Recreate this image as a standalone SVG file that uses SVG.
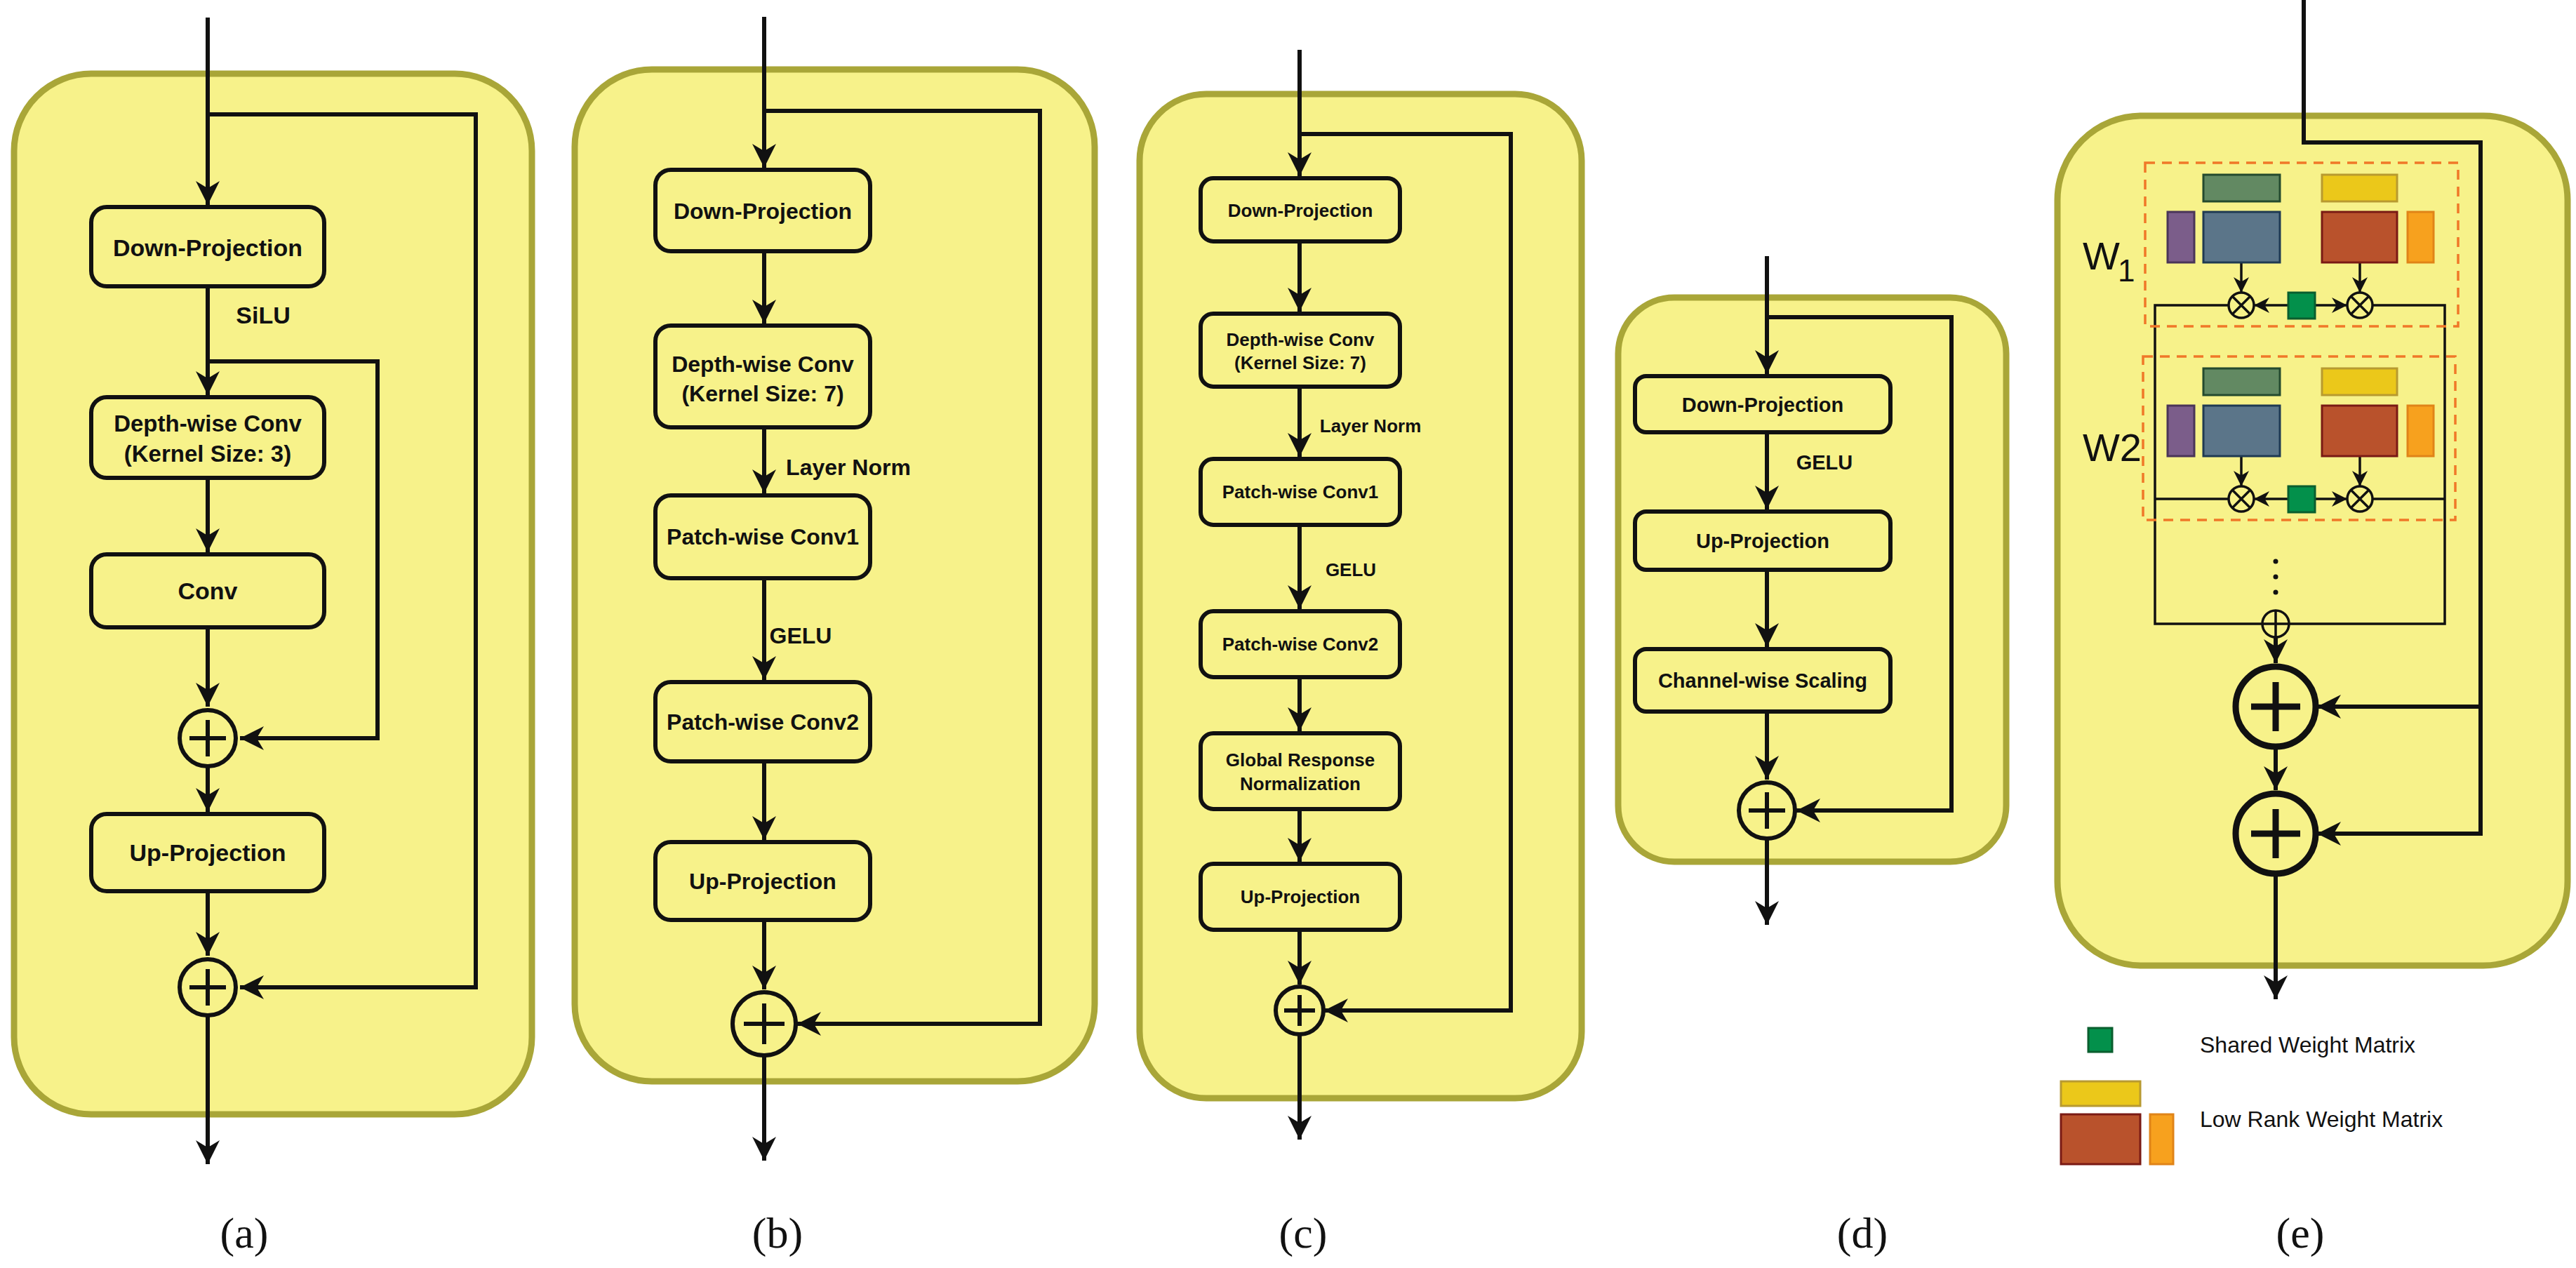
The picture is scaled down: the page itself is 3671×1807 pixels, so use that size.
<svg xmlns="http://www.w3.org/2000/svg" width="3671" height="1807" viewBox="0 0 3671 1807">
<defs>
<style>
.panel{fill:#F7F28A;stroke:#A9A638;stroke-width:9}
.box{fill:#F7F28A;stroke:#111;stroke-width:6}
.ln{fill:none;stroke:#111;stroke-width:6}
.ln2{fill:none;stroke:#111;stroke-width:3.5}
.t{font-family:"Liberation Sans",Arial,sans-serif;font-weight:bold;fill:#111;text-anchor:middle}
.lab{font-family:"Liberation Serif","Times New Roman",serif;font-size:62px;fill:#111;text-anchor:middle}
.dash{fill:none;stroke:#F07828;stroke-width:3.5;stroke-dasharray:14 10}
.w{font-family:"Liberation Sans",Arial,sans-serif;fill:#111}
</style>
<marker id="ah" viewBox="0 0 10 10" refX="10" refY="5" markerWidth="34" markerHeight="36" markerUnits="userSpaceOnUse" orient="auto"><path d="M0,0 L10,5 L0,10 L3,5 Z" fill="#111"/></marker>
<marker id="ahs" viewBox="0 0 10 10" refX="10" refY="5" markerWidth="22" markerHeight="22" markerUnits="userSpaceOnUse" orient="auto"><path d="M0,0 L10,5 L0,10 L3,5 Z" fill="#111"/></marker>
</defs>

<g id="panels">
<rect class="panel" x="20" y="105" width="738" height="1483" rx="110"/>
<rect class="panel" x="819" y="99" width="741" height="1442" rx="110"/>
<rect class="panel" x="1624" y="134" width="630" height="1431" rx="95"/>
<rect class="panel" x="2306" y="424" width="553" height="804" rx="80"/>
<rect class="panel" x="2932" y="165" width="727" height="1211" rx="120"/>
</g>

<g id="connectors">
<!-- a -->
<path class="ln" d="M296,25 V292" marker-end="url(#ah)"/>
<path class="ln" d="M296,163 H678 V1407 H342" marker-end="url(#ah)"/>
<path class="ln" d="M296,408 V563" marker-end="url(#ah)"/>
<path class="ln" d="M296,515 H538 V1052 H342" marker-end="url(#ah)"/>
<path class="ln" d="M296,681 V787" marker-end="url(#ah)"/>
<path class="ln" d="M296,894 V1007" marker-end="url(#ah)"/>
<path class="ln" d="M296,1094 V1157" marker-end="url(#ah)"/>
<path class="ln" d="M296,1270 V1362" marker-end="url(#ah)"/>
<path class="ln" d="M296,1449 V1659" marker-end="url(#ah)"/>
<!-- b -->
<path class="ln" d="M1089,24 V239" marker-end="url(#ah)"/>
<path class="ln" d="M1089,158 H1482 V1459 H1136" marker-end="url(#ah)"/>
<path class="ln" d="M1089,358 V461" marker-end="url(#ah)"/>
<path class="ln" d="M1089,609 V703" marker-end="url(#ah)"/>
<path class="ln" d="M1089,824 V969" marker-end="url(#ah)"/>
<path class="ln" d="M1089,1085 V1197" marker-end="url(#ah)"/>
<path class="ln" d="M1089,1311 V1410" marker-end="url(#ah)"/>
<path class="ln" d="M1089,1506 V1654" marker-end="url(#ah)"/>
<!-- c -->
<path class="ln" d="M1852,71 V251" marker-end="url(#ah)"/>
<path class="ln" d="M1852,191 H2153 V1440 H1887" marker-end="url(#ah)"/>
<path class="ln" d="M1852,344 V444" marker-end="url(#ah)"/>
<path class="ln" d="M1852,551 V651" marker-end="url(#ah)"/>
<path class="ln" d="M1852,748 V868" marker-end="url(#ah)"/>
<path class="ln" d="M1852,965 V1042" marker-end="url(#ah)"/>
<path class="ln" d="M1852,1153 V1228" marker-end="url(#ah)"/>
<path class="ln" d="M1852,1325 V1403" marker-end="url(#ah)"/>
<path class="ln" d="M1852,1475 V1624" marker-end="url(#ah)"/>
<!-- d -->
<path class="ln" d="M2518,365 V533" marker-end="url(#ah)"/>
<path class="ln" d="M2518,452 H2781 V1155 H2560" marker-end="url(#ah)"/>
<path class="ln" d="M2518,616 V726" marker-end="url(#ah)"/>
<path class="ln" d="M2518,812 V922" marker-end="url(#ah)"/>
<path class="ln" d="M2518,1014 V1111" marker-end="url(#ah)"/>
<path class="ln" d="M2518,1197 V1318" marker-end="url(#ah)"/>
<!-- e -->
<path class="ln" d="M3283,0 V203 H3535 V1188 H3302" marker-end="url(#ah)"/>
<path class="ln" d="M3535,1007 H3302" marker-end="url(#ah)"/>
<path class="ln2" d="M3194,374 V417" marker-end="url(#ahs)"/>
<path class="ln2" d="M3363,374 V417" marker-end="url(#ahs)"/>
<path class="ln2" d="M3261,435 H3212" marker-end="url(#ahs)"/>
<path class="ln2" d="M3299,435 H3345" marker-end="url(#ahs)"/>
<path class="ln2" d="M3194,650 V693" marker-end="url(#ahs)"/>
<path class="ln2" d="M3363,650 V693" marker-end="url(#ahs)"/>
<path class="ln2" d="M3261,711 H3212" marker-end="url(#ahs)"/>
<path class="ln2" d="M3299,711 H3345" marker-end="url(#ahs)"/>
<path class="ln2" d="M3176,435 H3071 V889 H3224"/>
<path class="ln2" d="M3381,435 H3484 V889 H3262"/>
<path class="ln2" d="M3176,711 H3071"/>
<path class="ln2" d="M3381,711 H3484"/>
<path class="ln" d="M3243,908 V945" marker-end="url(#ah)"/>
<path class="ln" d="M3243,1066 V1126" marker-end="url(#ah)"/>
<path class="ln" d="M3243,1247 V1424" marker-end="url(#ah)"/>
</g>

<g id="a-nodes">
<rect class="box" x="130" y="295" width="332" height="113" rx="22"/>
<text class="t" x="296" y="365" font-size="34">Down-Projection</text>
<text class="t" x="375" y="461" font-size="34">SiLU</text>
<rect class="box" x="130" y="566" width="332" height="115" rx="22"/>
<text class="t" x="296" y="615" font-size="33">Depth-wise Conv</text>
<text class="t" x="296" y="658" font-size="33">(Kernel Size: 3)</text>
<rect class="box" x="130" y="790" width="332" height="104" rx="22"/>
<text class="t" x="296" y="854" font-size="34">Conv</text>
<rect class="box" x="130" y="1160" width="332" height="110" rx="22"/>
<text class="t" x="296" y="1227" font-size="34">Up-Projection</text>
<g><circle class="ln" cx="296" cy="1052" r="40"/><path class="ln" d="M270,1052 H322 M296,1026 V1078"/></g>
<g><circle class="ln" cx="296" cy="1407" r="40"/><path class="ln" d="M270,1407 H322 M296,1381 V1433"/></g>
<text class="lab" x="348" y="1778">(a)</text>
</g>

<g id="b-nodes">
<rect class="box" x="934" y="242" width="306" height="116" rx="22"/>
<text class="t" x="1087" y="312" font-size="32">Down-Projection</text>
<rect class="box" x="934" y="464" width="306" height="145" rx="22"/>
<text class="t" x="1087" y="530" font-size="32">Depth-wise Conv</text>
<text class="t" x="1087" y="572" font-size="32">(Kernel Size: 7)</text>
<text class="t" x="1209" y="677" font-size="32">Layer Norm</text>
<rect class="box" x="934" y="706" width="306" height="118" rx="22"/>
<text class="t" x="1087" y="776" font-size="32">Patch-wise Conv1</text>
<text class="t" x="1141" y="917" font-size="32">GELU</text>
<rect class="box" x="934" y="972" width="306" height="113" rx="22"/>
<text class="t" x="1087" y="1040" font-size="32">Patch-wise Conv2</text>
<rect class="box" x="934" y="1200" width="306" height="111" rx="22"/>
<text class="t" x="1087" y="1267" font-size="32">Up-Projection</text>
<g><circle class="ln" cx="1089" cy="1459" r="45"/><path class="ln" d="M1060,1459 H1118 M1089,1430 V1488"/></g>
<text class="lab" x="1108" y="1778">(b)</text>
</g>

<g id="c-nodes">
<rect class="box" x="1711" y="254" width="284" height="90" rx="18"/>
<text class="t" x="1853" y="309" font-size="26">Down-Projection</text>
<rect class="box" x="1711" y="447" width="284" height="104" rx="18"/>
<text class="t" x="1853" y="493" font-size="26">Depth-wise Conv</text>
<text class="t" x="1853" y="526" font-size="26">(Kernel Size: 7)</text>
<text class="t" x="1953" y="616" font-size="26">Layer Norm</text>
<rect class="box" x="1711" y="654" width="284" height="94" rx="18"/>
<text class="t" x="1853" y="710" font-size="26">Patch-wise Conv1</text>
<text class="t" x="1925" y="821" font-size="26">GELU</text>
<rect class="box" x="1711" y="871" width="284" height="94" rx="18"/>
<text class="t" x="1853" y="927" font-size="26">Patch-wise Conv2</text>
<rect class="box" x="1711" y="1045" width="284" height="108" rx="18"/>
<text class="t" x="1853" y="1092" font-size="26">Global Response</text>
<text class="t" x="1853" y="1126" font-size="26">Normalization</text>
<rect class="box" x="1711" y="1231" width="284" height="94" rx="18"/>
<text class="t" x="1853" y="1287" font-size="26">Up-Projection</text>
<g><circle class="ln" cx="1852" cy="1440" r="34"/><path class="ln" d="M1830,1440 H1874 M1852,1418 V1462"/></g>
<text class="lab" x="1857" y="1778">(c)</text>
</g>

<g id="d-nodes">
<rect class="box" x="2330" y="536" width="364" height="80" rx="16"/>
<text class="t" x="2512" y="587" font-size="29">Down-Projection</text>
<text class="t" x="2600" y="669" font-size="29">GELU</text>
<rect class="box" x="2330" y="729" width="364" height="83" rx="16"/>
<text class="t" x="2512" y="781" font-size="29">Up-Projection</text>
<rect class="box" x="2330" y="925" width="364" height="89" rx="16"/>
<text class="t" x="2512" y="980" font-size="29">Channel-wise Scaling</text>
<g><circle class="ln" cx="2518" cy="1155" r="40"/><path class="ln" d="M2492,1155 H2544 M2518,1129 V1181"/></g>
<text class="lab" x="2654" y="1778">(d)</text>
</g>

<g id="e-nodes">
<rect class="dash" x="3057" y="232" width="446" height="233"/>
<rect class="dash" x="3054" y="508" width="445" height="233"/>
<text class="w" x="2968" y="384" font-size="56">W</text><text class="w" x="3018" y="401" font-size="44">1</text>
<text class="w" x="2968" y="657" font-size="56">W2</text>
<g id="w1">
<rect x="3140" y="249" width="109" height="38" fill="#628962" stroke="#244A2E" stroke-width="3"/>
<rect x="3309" y="249" width="107" height="38" fill="#EBC81A" stroke="#B89A30" stroke-width="3"/>
<rect x="3089" y="302" width="38" height="72" fill="#7B5D8A" stroke="#4A3558" stroke-width="3"/>
<rect x="3140" y="302" width="109" height="72" fill="#5B7589" stroke="#1F3A52" stroke-width="3"/>
<rect x="3309" y="302" width="107" height="72" fill="#B9522C" stroke="#7A1A14" stroke-width="3"/>
<rect x="3431" y="302" width="37" height="72" fill="#F7A11E" stroke="#E08418" stroke-width="3"/>
<rect x="3261" y="417" width="38" height="37" fill="#03904B" stroke="#0A5E2E" stroke-width="3"/>
<g><circle class="ln2" cx="3194" cy="435" r="18"/><path class="ln2" d="M3181,422 L3207,448 M3207,422 L3181,448"/></g>
<g><circle class="ln2" cx="3363" cy="435" r="18"/><path class="ln2" d="M3350,422 L3376,448 M3376,422 L3350,448"/></g>
</g>
<g id="w2" transform="translate(0,276)">
<rect x="3140" y="249" width="109" height="38" fill="#628962" stroke="#244A2E" stroke-width="3"/>
<rect x="3309" y="249" width="107" height="38" fill="#EBC81A" stroke="#B89A30" stroke-width="3"/>
<rect x="3089" y="302" width="38" height="72" fill="#7B5D8A" stroke="#4A3558" stroke-width="3"/>
<rect x="3140" y="302" width="109" height="72" fill="#5B7589" stroke="#1F3A52" stroke-width="3"/>
<rect x="3309" y="302" width="107" height="72" fill="#B9522C" stroke="#7A1A14" stroke-width="3"/>
<rect x="3431" y="302" width="37" height="72" fill="#F7A11E" stroke="#E08418" stroke-width="3"/>
<rect x="3261" y="417" width="38" height="37" fill="#03904B" stroke="#0A5E2E" stroke-width="3"/>
<g><circle class="ln2" cx="3194" cy="435" r="18"/><path class="ln2" d="M3181,422 L3207,448 M3207,422 L3181,448"/></g>
<g><circle class="ln2" cx="3363" cy="435" r="18"/><path class="ln2" d="M3350,422 L3376,448 M3376,422 L3350,448"/></g>
</g>
<circle cx="3243" cy="800" r="3.5" fill="#111"/><circle cx="3243" cy="822" r="3.5" fill="#111"/><circle cx="3243" cy="844" r="3.5" fill="#111"/>
<g><circle class="ln2" cx="3243" cy="889" r="19"/><path class="ln2" d="M3224,889 H3262 M3243,870 V908"/></g>
<g><circle cx="3243" cy="1007" r="57" fill="none" stroke="#111" stroke-width="9"/><path d="M3208,1007 H3278 M3243,972 V1042" stroke="#111" stroke-width="9"/></g>
<g><circle cx="3243" cy="1188" r="57" fill="none" stroke="#111" stroke-width="9"/><path d="M3208,1188 H3278 M3243,1153 V1223" stroke="#111" stroke-width="9"/></g>
<text class="lab" x="3278" y="1778">(e)</text>
</g>

<g id="legend">
<rect x="2976" y="1465" width="34" height="34" fill="#03904B" stroke="#0A5E2E" stroke-width="3"/>
<text class="w" x="3135" y="1500" font-size="32">Shared Weight Matrix</text>
<rect x="2937" y="1541" width="113" height="35" fill="#EBC81A" stroke="#B89A30" stroke-width="3"/>
<rect x="2937" y="1588" width="113" height="71" fill="#B9522C" stroke="#7A1A14" stroke-width="3"/>
<rect x="3064" y="1588" width="33" height="71" fill="#F7A11E" stroke="#E08418" stroke-width="3"/>
<text class="w" x="3135" y="1606" font-size="32">Low Rank Weight Matrix</text>
</g>
</svg>
